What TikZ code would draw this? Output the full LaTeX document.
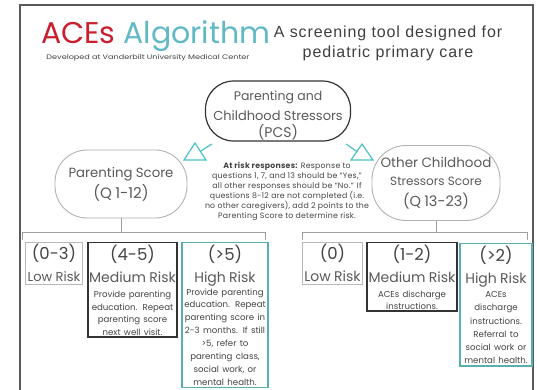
\documentclass[tikz,border=0pt]{standalone}
\usepackage{fontspec}
\setmainfont{Poppins}
\newfontfamily\arialfont[LetterSpace=5.5]{Liberation Sans}
\usetikzlibrary{shapes.misc}
\definecolor{acered}{HTML}{C8202F}
\definecolor{aceteal}{HTML}{62B9C6}
\definecolor{tri}{HTML}{4CC2C4}
\definecolor{txt}{HTML}{5A5A5A}
\definecolor{dtxt}{HTML}{444444}
\definecolor{hiteal}{HTML}{5AAEB0}
\newcommand{\hd}[1]{{\fontsize{16.5}{16}\selectfont #1\par}}
\newcommand{\rk}[2][22]{{\fontsize{14}{#1}\selectfont\color{txt} #2\par}}
\newcommand{\sm}[1]{\fontsize{8.6}{#1}\selectfont}
\begin{document}
\begin{tikzpicture}[x=1pt,y=-1pt,
  stad/.style={rectangle, rounded corners=#1, line width=0.9pt, text=txt, align=center, inner sep=0pt},
  box/.style={rectangle, draw=#1, anchor=north, align=center, text=dtxt, inner xsep=1pt, inner ysep=2pt},
  lowbox/.style={box=gray!55, line width=0.9pt},
  medbox/.style={box=black!80, line width=1.4pt},
  highbox/.style={box=hiteal, line width=1.4pt},
  conn/.style={draw=gray!75, line width=1pt},
  trilink/.style={draw=tri, line width=1.2pt},
]
\useasboundingbox (0,0) rectangle (537,389);
\fill[white] (0,0) rectangle (537,389);
% frame
\draw[gray!70!black, line width=2.2pt] (20,395) -- (20,5) -- (533,5) -- (533,395);

% title
\node[anchor=base west, inner sep=0pt] (title) at (41,43)
  {\fontsize{30}{30}\selectfont\textcolor{acered}{ACEs} \textcolor{aceteal}{Algorithm}};
\node[inner sep=0pt, text=dtxt] (dev) at (148,58)
  {\resizebox{203pt}{5pt}{Developed at Vanderbilt University Medical Center}};
\node[inner sep=0pt, align=center, text=black!75, font=\arialfont\fontsize{16}{20}\selectfont] (sub) at (388,43)
  {A screening tool designed for\\pediatric primary care};

% main nodes
\node[stad=28pt, draw=black!80, line width=1.2pt, minimum width=145pt, minimum height=60pt, text width=140pt] (pcs) at (278,111)
  {{\fontsize{12.5}{15}\selectfont\rule{0pt}{19pt}Parenting and\par}{\fontsize{13}{19.5}\selectfont Childhood Stressors\par}{\fontsize{14}{17.5}\selectfont (PCS)\par}};
\node[stad=32pt, draw=gray!60, minimum width=132pt, minimum height=68pt, text width=125pt] (ps) at (121,184)
  {{\fontsize{13.3}{15}\selectfont Parenting Score\par}{\fontsize{15}{21}\selectfont (Q 1-12)\par}};
\node[stad=34pt, draw=gray!60, minimum width=128pt, minimum height=75pt, text width=122pt] (oc) at (436,183)
  {{\fontsize{13.5}{15}\selectfont Other Childhood\par}{\fontsize{12}{18}\selectfont Stressors Score\par}{\fontsize{14.5}{21}\selectfont (Q 13-23)\par}};

% teal triangle links
\coordinate (ltri) at (200,151.5);
\coordinate (rtri) at (357.5,152);
\draw[trilink] ([shift={(7,33)}]pcs.west) -- (ltri);
\draw[trilink] (195,143) -- (206,160) -- (184,160) -- cycle;
\draw[trilink] ([shift={(-5,33)}]pcs.east) -- (rtri);
\draw[trilink] (362,144) -- (373,160) -- (351,160) -- cycle;

% note
\node[text=dtxt, align=center, inner sep=0pt, font=\fontsize{7.8}{10}\selectfont\addfontfeature{LetterSpace=3}] (note) at (287,191)
  {\textbf{At risk responses:} Response to\\
   questions 1, 7, and 13 should be ``Yes,''\\
   all other responses should be ``No.'' If\\
   questions 8-12 are not completed (i.e.\\
   no other caregivers), add 2 points to the\\
   Parenting Score to determine risk.};

% brackets
\coordinate (lb1) at (22,240); \coordinate (lb2) at (22,232);
\coordinate (lb3) at (265,232); \coordinate (lb4) at (265,240);
\coordinate (lbm) at (121,232);
\coordinate (rb1) at (302,240); \coordinate (rb2) at (302,232);
\coordinate (rb3) at (527,232); \coordinate (rb4) at (527,240);
\coordinate (rbm) at (436,232);
\draw[conn] (lb1) -- (lb2) -- (lb3) -- (lb4);
\draw[conn] (rb1) -- (rb2) -- (rb3) -- (rb4);
\draw[conn] (ps.south) -- (lbm);
\draw[conn] (oc.south) -- (rbm);

% left boxes
\node[lowbox, text width=55pt] (l1) at (54,242)
  {\hd{(0-3)}{\fontsize{13}{22}\selectfont\color{txt} Low Risk\par}};
\node[medbox, text width=87pt] (l2) at (132.5,242)
  {\hd{(4-5)}\rk{Medium Risk}
   {\sm{12.5}\vspace*{3pt}Provide parenting\\education. Repeat\\parenting score\\next well visit.\par}};
\node[highbox, text width=84pt] (l3) at (225,242)
  {\hd{(>5)}\rk{High Risk}
   {\sm{12.9}Provide parenting\\education. Repeat\\parenting score in\\2-3 months. If still\\>5, refer to\\parenting class,\\social work, or\\mental health.\par}};

% right boxes
\node[lowbox, text width=58pt] (r1) at (332.5,242)
  {\hd{(0)}\rk{Low Risk}};
\node[medbox, text width=88pt] (r2) at (412,242)
  {\hd{(1-2)}\rk{Medium Risk}
   {\sm{12}\vspace*{3pt}ACEs discharge\\instructions.\par}};
\node[highbox, text width=70pt] (r3) at (496,243)
  {\vspace*{2pt}\hd{(>2)}\rk[20]{High Risk}
   {\sm{13.3}\vspace*{1pt}ACEs\\discharge\\instructions.\\Referral to\\social work or\\mental health.\par}};
\end{tikzpicture}
\end{document}
